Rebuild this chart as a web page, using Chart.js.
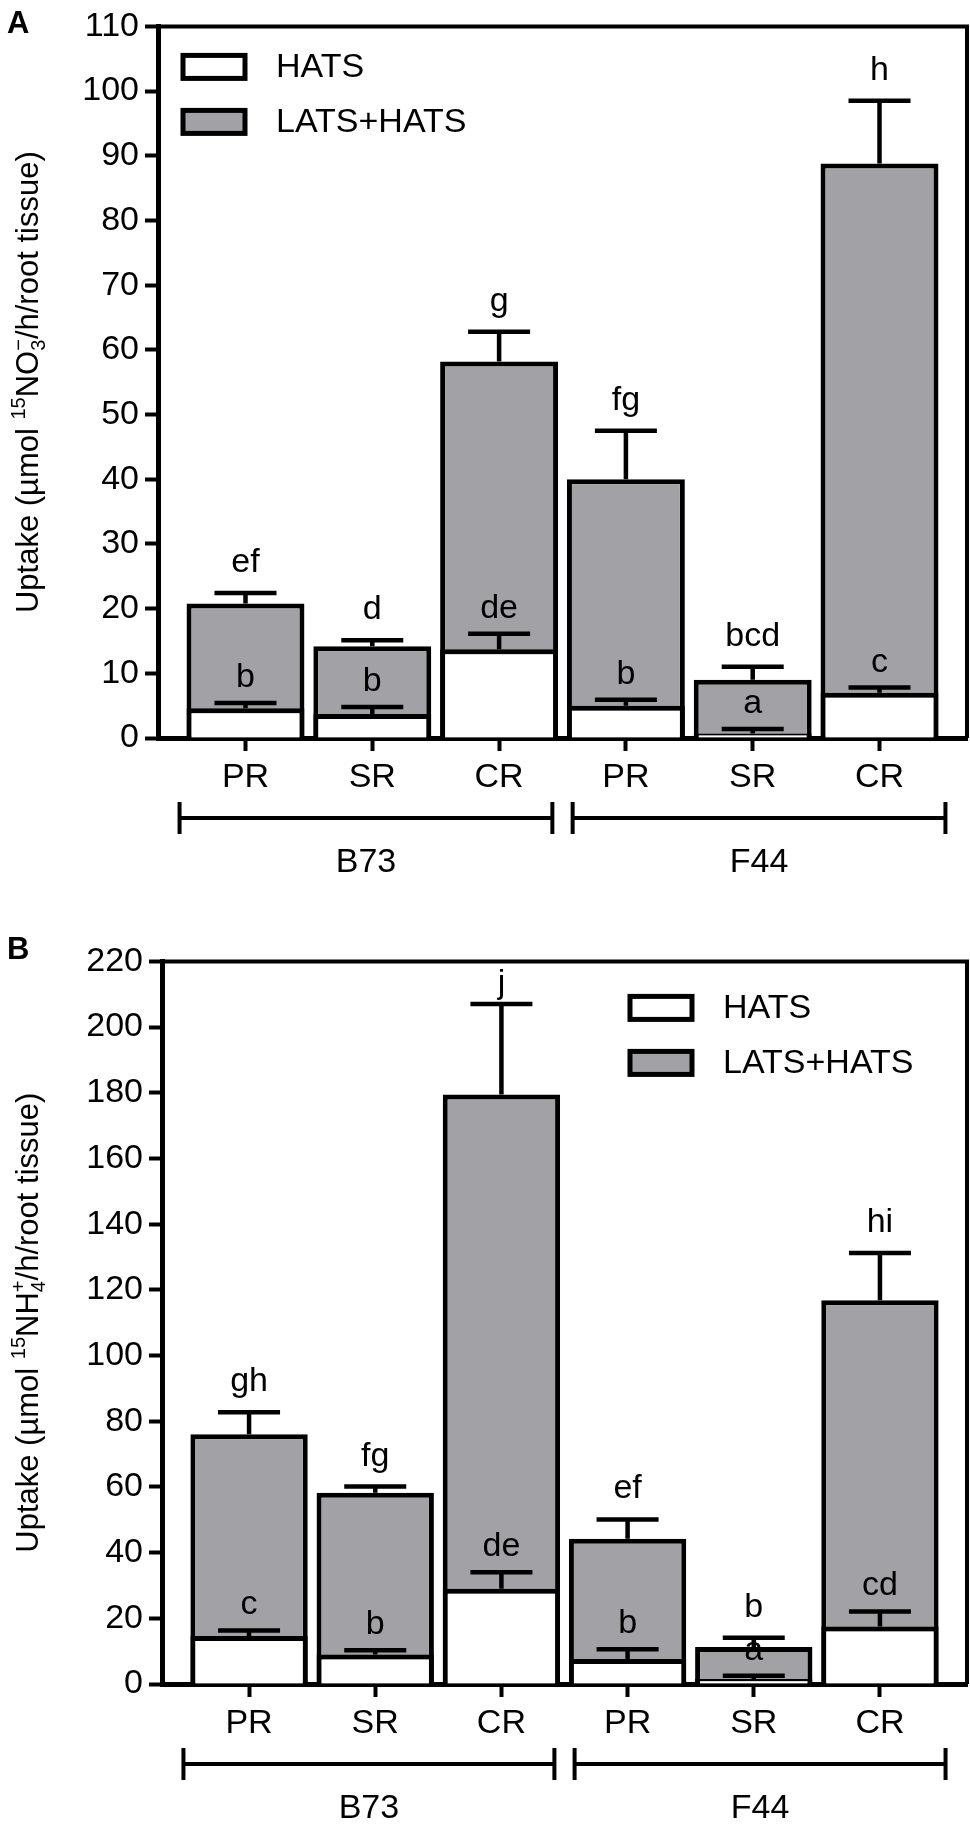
<!DOCTYPE html>
<html>
<head>
<meta charset="utf-8">
<script src="https://cdn.jsdelivr.net/npm/chart.js@4.4.1/dist/chart.umd.min.js"></script>
<style>
  body { margin: 0; background: #fff; }
  #wrap { position: relative; width: 970px; height: 1825px; }
  canvas { position: absolute; left: 0; }
</style>
</head>
<body>
<div id="wrap">
  <canvas id="chartA" width="970" height="935" style="top:0"></canvas>
  <canvas id="chartB" width="970" height="890" style="top:935px"></canvas>
</div>
<script>
// categories and groups (shared by both panels)
const categories = ["PR", "SR", "CR", "PR", "SR", "CR"];
const groups = ["B73", "F44"];
const groupRanges = [[-0.52, 2.42], [2.58, 5.52]];

// panel A : 15NO3- uptake
const ticksA = [0, 10, 20, 30, 40, 50, 60, 70, 80, 90, 100, 110];
const hatsA = [4.6, 3.7, 13.7, 5.0, 0.7, 7.0];
const hatsErrA = [0.8, 1.1, 2.4, 0.9, 0.7, 0.8];
const totalA = [20.8, 14.2, 58.2, 40.0, 9.0, 88.8];
const totalErrA = [1.6, 0.9, 4.6, 7.5, 2.0, 9.7];
const lettersHatsA = ["b", "b", "de", "b", "a", "c"];
const lettersTotalA = ["ef", "d", "g", "fg", "bcd", "h"];

// panel B : 15NH4+ uptake
const ticksB = [0, 20, 40, 60, 80, 100, 120, 140, 160, 180, 200, 220];
const hatsB = [14.6, 9.0, 29.0, 7.6, 1.5, 17.5];
const hatsErrB = [1.7, 1.3, 5.0, 3.0, 1.0, 4.6];
const totalB = [76.0, 58.2, 179.5, 44.2, 11.3, 116.8];
const totalErrB = [6.7, 1.9, 27.5, 5.9, 2.8, 14.4];
const lettersHatsB = ["c", "b", "de", "b", "a", "cd"];
const lettersTotalB = ["gh", "fg", "j", "ef", "b", "hi"];

const FONT = '"Liberation Sans", Arial, Helvetica, sans-serif';
const GREY = "#a2a2a6";

function makeChart(id, p) {
  const extras = {
    id: "extras",
    afterDatasetsDraw(chart) {
      const ctx = chart.ctx, y = chart.scales.y, area = chart.chartArea;
      ctx.save();
      ctx.strokeStyle = "#000";
      ctx.fillStyle = "#000";
      ctx.lineWidth = 4.5;
      ctx.font = "34px " + FONT;
      ctx.textAlign = "center";
      ctx.textBaseline = "alphabetic";
      [[1, p.total, p.totalErr, p.lettersTotal, 21], [0, p.hats, p.hatsErr, p.lettersHats, 16]].forEach(([di, vals, errs, letters, gap]) => {
        const meta = chart.getDatasetMeta(di);
        meta.data.forEach((bar, i) => {
          const y0 = y.getPixelForValue(vals[i]);
          const y1 = y.getPixelForValue(vals[i] + errs[i]);
          ctx.beginPath();
          ctx.moveTo(bar.x, y0);
          ctx.lineTo(bar.x, y1);
          ctx.moveTo(bar.x - 31, y1);
          ctx.lineTo(bar.x + 31, y1);
          ctx.stroke();
          const ty = Math.max(y1 - gap, area.top + 32);
          ctx.fillText(letters[i], bar.x, ty);
        });
      });
      ctx.restore();
    },
    afterDraw(chart) {
      const ctx = chart.ctx, x = chart.scales.x, area = chart.chartArea;
      ctx.save();
      ctx.strokeStyle = "#000";
      ctx.fillStyle = "#000";
      // top and right frame
      ctx.lineWidth = 4;
      ctx.beginPath();
      ctx.moveTo(area.left, area.top);
      ctx.lineTo(area.right, area.top);
      ctx.lineTo(area.right, area.bottom);
      ctx.stroke();

      // group brackets under the category labels
      ctx.lineWidth = 4;
      ctx.font = "34px " + FONT;
      ctx.textAlign = "center";
      ctx.textBaseline = "middle";
      groups.forEach((g, k) => {
        const xa = x.getPixelForValue(groupRanges[k][0]);
        const xb = x.getPixelForValue(groupRanges[k][1]);
        const by = area.bottom + 80;
        ctx.beginPath();
        ctx.moveTo(xa, by); ctx.lineTo(xb, by);
        ctx.moveTo(xa, by - 16); ctx.lineTo(xa, by + 16);
        ctx.moveTo(xb, by - 16); ctx.lineTo(xb, by + 16);
        ctx.stroke();
        ctx.fillText(g, (xa + xb) / 2, area.bottom + 125);
      });

      // legend
      const items = [["HATS", "#fff"], ["LATS+HATS", GREY]];
      ctx.textAlign = "left";
      items.forEach(([label, fill], k) => {
        const cy = area.top + p.legendY + k * 55;
        ctx.fillStyle = fill;
        ctx.fillRect(p.legendX, cy - 11, 62, 23);
        ctx.lineWidth = 5;
        ctx.strokeRect(p.legendX, cy - 11, 62, 23);
        ctx.fillStyle = "#000";
        ctx.fillText(label, p.legendX + 93, cy + 1);
      });

      // panel letter
      ctx.font = "bold 31px " + FONT;
      ctx.textBaseline = "alphabetic";
      ctx.fillText(p.panel, 7, p.panelY);

      // rotated y-axis title with sub/superscripts
      ctx.translate(38, (area.top + area.bottom) / 2);
      ctx.rotate(-Math.PI / 2);
      const big = "31px " + FONT, small = "20px " + FONT;
      let total = 0, prevW = 0;
      const parts = p.title.map(seg => {
        ctx.font = seg.s === "n" ? big : small;
        const w = ctx.measureText(seg.t).width;
        const adv = seg.stack ? Math.max(0, w - prevW) : w;
        const out = { seg, adv, back: seg.stack ? prevW : 0 };
        total += adv;
        prevW = w;
        return out;
      });
      let cx = -total / 2;
      ctx.textAlign = "left";
      parts.forEach(o => {
        const s = o.seg;
        ctx.font = s.s === "n" ? big : small;
        const dy = s.s === "sup" ? -13 : s.s === "sub" ? 7 : 0;
        ctx.fillText(s.t, cx - o.back, dy);
        cx += o.adv;
      });
      ctx.restore();
    }
  };

  const axisGrid = { drawOnChartArea: false, drawTicks: true, tickLength: 13, tickWidth: 4, color: "#000", offset: false };
  return new Chart(document.getElementById(id), {
    type: "bar",
    data: {
      datasets: [
        {
          label: "HATS",
          data: p.hats.map((v, i) => ({ x: i, y: v })),
          backgroundColor: "#fff",
          borderColor: "#000",
          borderWidth: 5,
          grouped: false,
          categoryPercentage: 1,
          barPercentage: 0.93
        },
        {
          label: "LATS+HATS",
          data: p.total.map((v, i) => ({ x: i, y: v })),
          backgroundColor: GREY,
          borderColor: "#000",
          borderWidth: 5,
          grouped: false,
          categoryPercentage: 1,
          barPercentage: 0.93
        }
      ]
    },
    options: {
      responsive: false,
      animation: false,
      devicePixelRatio: 1,
      layout: { padding: { top: 23, right: 3, left: 0, bottom: 0 } },
      plugins: { legend: { display: false }, tooltip: { enabled: false } },
      scales: {
        x: {
          type: "linear",
          offset: false,
          min: -0.69,
          max: 5.69,
          afterBuildTicks: s => { s.ticks = categories.map((c, i) => ({ value: i })); },
          afterFit: s => { s.height = p.h - p.bottom; },
          ticks: {
            callback: v => categories[v],
            font: { size: 34, family: FONT },
            color: "#000",
            padding: 6,
            maxRotation: 0,
            autoSkip: false
          },
          grid: axisGrid,
          border: { width: 5, color: "#000" }
        },
        y: {
          min: 0,
          max: p.ticks[p.ticks.length - 1],
          afterBuildTicks: s => { s.ticks = p.ticks.map(v => ({ value: v })); },
          afterFit: s => { s.width = p.left; },
          ticks: { font: { size: 34, family: FONT }, color: "#000", padding: 6 },
          grid: axisGrid,
          border: { width: 5, color: "#000" }
        }
      }
    },
    plugins: [extras]
  });
}

makeChart("chartA", {
  h: 935, bottom: 738, left: 158, panel: "A", panelY: 33,
  ticks: ticksA, hats: hatsA, hatsErr: hatsErrA, total: totalA, totalErr: totalErrA,
  lettersHats: lettersHatsA, lettersTotal: lettersTotalA,
  legendX: 183, legendY: 40,
  title: [
    { t: "Uptake (µmol ", s: "n" }, { t: "15", s: "sup" }, { t: "NO", s: "n" },
    { t: "3", s: "sub" }, { t: "\u2212", s: "sup", stack: true }, { t: "/h/root tissue)", s: "n" }
  ]
});

makeChart("chartB", {
  h: 890, bottom: 749, left: 162, panel: "B", panelY: 24,
  ticks: ticksB, hats: hatsB, hatsErr: hatsErrB, total: totalB, totalErr: totalErrB,
  lettersHats: lettersHatsB, lettersTotal: lettersTotalB,
  legendX: 630, legendY: 46,
  title: [
    { t: "Uptake (µmol ", s: "n" }, { t: "15", s: "sup" }, { t: "NH", s: "n" },
    { t: "4", s: "sub" }, { t: "+", s: "sup", stack: true }, { t: "/h/root tissue)", s: "n" }
  ]
});
</script>
</body>
</html>
